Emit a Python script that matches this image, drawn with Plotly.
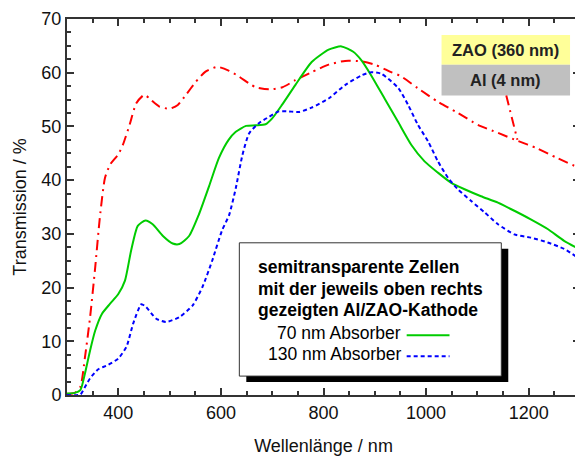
import plotly.graph_objects as go

# ---- data ----
red_nm = [300, 315, 326, 335, 345, 355, 364, 374, 384, 400, 409, 422, 435, 451, 464, 480, 500, 516, 532, 551, 570, 593, 615, 635, 655, 668, 694, 720, 745, 777, 810, 842, 874, 900, 932, 950, 984, 1023, 1062, 1101, 1140, 1179, 1217, 1256, 1300]
red_T = [0.2, 0.4, 1.5, 7, 14.5, 23.8, 33, 40.4, 42.9, 44.8, 46.6, 50.3, 54.3, 55.9, 54.9, 53.7, 53.3, 54, 55.9, 58.3, 60.2, 61.1, 60.4, 59.3, 58, 57.3, 56.9, 57.3, 58.6, 60.1, 61.5, 62.2, 62.1, 61.5, 60.1, 59.4, 57.1, 54.6, 52.5, 50.3, 48.8, 47.3, 45.9, 44.1, 42.2]

green_nm = [300, 315, 326, 335, 345, 355, 368, 384, 400, 413, 425, 438, 453, 467, 487, 506, 519, 538, 557, 577, 596, 615, 629, 649, 668, 687, 700, 719, 745, 777, 810, 835, 858, 874, 893, 919, 945, 971, 997, 1023, 1049, 1075, 1107, 1140, 1172, 1204, 1237, 1269, 1300]
green_T = [0.3, 0.4, 0.9, 4, 8.3, 12, 15.1, 17, 18.8, 21.3, 26.9, 31.5, 32.5, 31.8, 29.6, 28.2, 28.1, 29.6, 33.6, 38.9, 44.1, 47.5, 49, 50.1, 50.2, 50.4, 51.5, 54, 57.7, 62, 64.3, 64.9, 63.9, 62.3, 59.5, 55.2, 50.9, 46.6, 43.5, 41.4, 39.5, 38.3, 37, 35.8, 34.3, 32.7, 30.9, 28.7, 27.1]

blue_nm = [300, 326, 335, 345, 361, 380, 400, 416, 429, 445, 454, 474, 493, 519, 545, 564, 583, 602, 616, 629, 642, 655, 674, 694, 713, 732, 752, 777, 810, 842, 874, 893, 913, 946, 965, 984, 1004, 1023, 1043, 1062, 1088, 1114, 1140, 1172, 1204, 1237, 1269, 1300]
blue_T = [0, 0.1, 1.5, 3.1, 4.8, 5.6, 6.8, 9, 13.3, 16.9, 16.4, 14.2, 13.6, 14.5, 16.7, 20.1, 25, 30.6, 33.5, 38.5, 44.7, 48.7, 50.6, 51.8, 52.8, 52.8, 52.7, 53.5, 55.2, 57.7, 59.5, 60.1, 59.8, 57.1, 54, 50.3, 47.2, 43.5, 40.4, 38.3, 36.1, 34, 31.8, 29.9, 29.3, 28.4, 27.2, 25.3]

x_ticks = [400, 600, 800, 1000, 1200]
y_ticks = [0, 10, 20, 30, 40, 50, 60, 70]

legend_title = ["semitransparente Zellen", "mit der jeweils oben rechts", "gezeigten Al/ZAO-Kathode"]
series_names = ["70 nm Absorber", "130 nm Absorber"]
box_labels = ["ZAO (360 nm)", "Al (4 nm)"]
arrow_target = (1178, 47.5)

# ---- layout geometry (page pixels; page has an 8px body margin) ----
OFF = 8
W, H = 583 - OFF, 456 - OFF
PL, PR, PT, PB = 67, 582, 17, 395          # plot area in page pixels
L, T = PL - OFF, PT - OFF
R = W - (PR - OFF)
B = H - (PB - OFF)
PW, PH = PR - PL, PB - PT


def px(x):
    return (x - PL) / PW


def py(y):
    return (PB - y) / PH


FONT = "Liberation Sans, Arial, sans-serif"
RED = "#FF0000"
GREEN = "#00CC00"
BLUE = "#0000FF"
RED_DASH = "10px,5px,2px,5px"
BLUE_DASH = "4px,3px"

fig = go.Figure()
fig.add_trace(go.Scatter(x=red_nm, y=red_T, mode="lines", line=dict(color=RED, width=2, dash=RED_DASH, shape="spline", smoothing=0.6), showlegend=False))
fig.add_trace(go.Scatter(x=green_nm, y=green_T, mode="lines", line=dict(color=GREEN, width=2, shape="spline", smoothing=0.6), showlegend=False))
fig.add_trace(go.Scatter(x=blue_nm, y=blue_T, mode="lines", line=dict(color=BLUE, width=2, dash=BLUE_DASH, shape="spline", smoothing=0.6), showlegend=False))

shapes = []
annotations = []

# top-right layer box
shapes.append(dict(type="rect", xref="paper", yref="paper", x0=px(443), x1=px(572), y0=py(63), y1=py(33), fillcolor="#FFFF99", line=dict(width=0), layer="above"))
shapes.append(dict(type="rect", xref="paper", yref="paper", x0=px(443), x1=px(572), y0=py(94), y1=py(63), fillcolor="#C0C0C0", line=dict(width=0), layer="above"))
annotations.append(dict(xref="paper", yref="paper", x=px(507.5), y=py(48), text="<b>" + box_labels[0] + "</b>", showarrow=False, font=dict(family=FONT, size=16.5, color="#222222"), xanchor="center", yanchor="middle"))
annotations.append(dict(xref="paper", yref="paper", x=px(507.5), y=py(78.5), text="<b>" + box_labels[1] + "</b>", showarrow=False, font=dict(family=FONT, size=16.5, color="#222222"), xanchor="center", yanchor="middle"))
# pointer line from box to red curve
shapes.append(dict(type="line", xref="paper", yref="paper", x0=px(508), y0=py(94),
                   x1=(arrow_target[0] - 300) / 1000, y1=arrow_target[1] / 70,
                   line=dict(color=RED, width=2, dash=RED_DASH), layer="above"))

# legend box with shadow
shapes.append(dict(type="rect", xref="paper", yref="paper", x0=px(247), x1=px(510), y0=py(382), y1=py(248), fillcolor="black", line=dict(width=0), layer="above"))
shapes.append(dict(type="rect", xref="paper", yref="paper", x0=px(240), x1=px(503), y0=py(376), y1=py(242), fillcolor="white", line=dict(color="#333333", width=1), layer="above"))
for i, t in enumerate(legend_title):
    annotations.append(dict(xref="paper", yref="paper", x=px(257), y=py(266 + 22 * i), text="<b>" + t + "</b>", showarrow=False, font=dict(family=FONT, size=17.5, color="black"), xanchor="left", yanchor="middle"))
annotations.append(dict(xref="paper", yref="paper", x=px(404), y=py(333), text=series_names[0], showarrow=False, font=dict(family=FONT, size=17.5, color="black"), xanchor="right", yanchor="middle"))
annotations.append(dict(xref="paper", yref="paper", x=px(404), y=py(354), text=series_names[1], showarrow=False, font=dict(family=FONT, size=17.5, color="black"), xanchor="right", yanchor="middle"))
shapes.append(dict(type="line", xref="paper", yref="paper", x0=px(408), x1=px(451), y0=py(335), y1=py(335), line=dict(color=GREEN, width=2), layer="above"))
shapes.append(dict(type="line", xref="paper", yref="paper", x0=px(408), x1=px(451), y0=py(356), y1=py(356), line=dict(color=BLUE, width=2, dash=BLUE_DASH), layer="above"))

axis_common = dict(showline=True, linecolor="#333333", linewidth=2, mirror="ticks", ticks="inside", tickcolor="#333333", tickwidth=2, showgrid=False, zeroline=False,
                   ticklabeloverflow="allow", tickfont=dict(family=FONT, size=18, color="#111111"))

fig.update_layout(
    width=W, height=H,
    margin=dict(l=L, r=R, t=T, b=B),
    paper_bgcolor="white", plot_bgcolor="white",
    shapes=shapes, annotations=annotations,
    xaxis=dict(range=[300, 1300], tickvals=x_ticks, ticklen=7,
               minor=dict(dtick=50, ticklen=4, ticks="inside", tickcolor="#333333", tickwidth=2, showgrid=False),
               title=dict(text="Wellenlänge / nm", font=dict(family=FONT, size=18, color="#111111"), standoff=19),
               **axis_common),
    yaxis=dict(range=[0, 70], tickvals=y_ticks, ticklen=7,
               minor=dict(dtick=2.5, ticklen=4, ticks="inside", tickcolor="#333333", tickwidth=2, showgrid=False),
               title=dict(text="Transmission / %", font=dict(family=FONT, size=18, color="#111111"), standoff=10),
               **axis_common),
)

fig.write_html("out.html")
